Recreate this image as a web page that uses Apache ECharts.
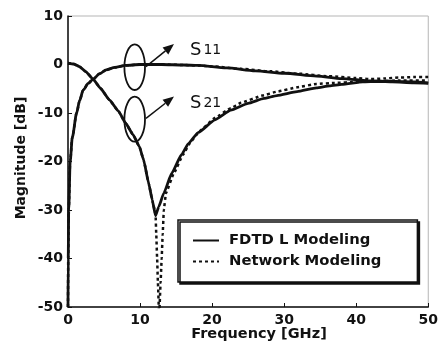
<!DOCTYPE html>
<html>
<head>
<meta charset="utf-8">
<script src="https://cdn.jsdelivr.net/npm/echarts@6/dist/echarts.min.js"></script>
<style>html,body{margin:0;padding:0;background:#fff}#c{width:441px;height:350px}</style>
</head>
<body>
<div id="c"></div>
<script>
// ---- data (GHz, dB) ----
const xTicks = [0, 10, 20, 30, 40, 50];
const yTicks = [10, 0, -10, -20, -30, -40, -50];
const s11Fdtd = [[0,-50],[0.03,-40],[0.1,-30],[0.3,-20],[0.6,-15],[1.2,-10],[1.6,-7.5],[2.1,-5.3],[2.8,-3.9],[3.5,-3.0],[4.4,-1.9],[5.3,-1.1],[6.5,-0.6],[8,-0.2],[10,0],[13,0],[16,-0.1],[18,-0.2],[22,-0.7],[26,-1.3],[30,-1.8],[34.5,-2.4],[38,-2.9],[40,-3.1],[42,-3.4],[45,-3.6],[48,-3.8],[50,-3.9]];
const s11Network = [[0,-50],[0.03,-40],[0.1,-30],[0.3,-20],[0.6,-15],[1.2,-10],[1.6,-7.5],[2.1,-5.3],[2.8,-3.9],[3.5,-3.0],[4.4,-1.9],[5.3,-1.1],[6.5,-0.6],[8,-0.2],[10,0],[13,0],[16,-0.1],[18,-0.2],[20,-0.4],[24,-0.9],[28,-1.4],[32,-1.9],[36,-2.4],[40,-2.8],[42,-3.0],[44,-2.9],[46,-2.7],[48,-2.6],[50,-2.6]];
const s21Fdtd = [[0,0.3],[0.8,0.1],[1.6,-0.45],[2.5,-1.5],[3.5,-3.05],[4.5,-4.9],[5.75,-7.3],[7,-9.6],[8,-12.1],[9,-14.4],[9.9,-16.9],[10.5,-19.7],[11.2,-24.5],[11.7,-28],[12.15,-31.2],[12.6,-29.3],[13.3,-26.5],[14.4,-22.4],[15.8,-18.5],[16.7,-16.3],[18.1,-14.0],[20.4,-11.4],[22.6,-9.4],[25,-8],[27.2,-7.0],[29,-6.4],[31.8,-5.6],[34.5,-4.8],[36.3,-4.4],[38,-4.1],[40.9,-3.6],[43,-3.5],[45.5,-3.5],[48,-3.6],[50,-3.8]];
const s21Network = [[0,0.3],[0.8,0.1],[1.6,-0.45],[2.5,-1.5],[3.5,-3.05],[4.5,-4.9],[5.75,-7.3],[7,-9.6],[8,-12.1],[9,-14.4],[9.9,-16.9],[10.5,-19.7],[11.2,-24.5],[11.7,-28],[12.15,-30.8],[12.25,-35],[12.37,-40],[12.48,-45],[12.65,-52],[12.85,-45],[13.0,-40],[13.14,-35],[13.3,-30],[13.6,-26.5],[14.7,-22.4],[16,-18.5],[17,-16],[18.3,-13.7],[20.4,-11],[22.6,-9],[24,-7.9],[27,-6.4],[29,-5.6],[31.8,-4.7],[34.5,-4.0],[37,-3.8],[40,-3.6],[43,-3.4],[46,-3.3],[50,-3.3]];
const seriesNames = ['FDTD L Modeling', 'Network Modeling'];
const curveLabels = ['11', '21'];

const FONT = 'DejaVu Sans';
const chart = echarts.init(document.getElementById('c'), null, {renderer: 'canvas'});

function arrow(x0, y0, x1, y1) {
  const dx = x1 - x0, dy = y1 - y0, L = Math.hypot(dx, dy);
  const ux = dx / L, uy = dy / L, px = -uy, py = ux;
  const len = 11, hw = 4.5;
  const bx = x1 - ux * len, by = y1 - uy * len;
  return [
    {type: 'line', shape: {x1: x0, y1: y0, x2: bx, y2: by}, style: {stroke: '#111', lineWidth: 1.5}},
    {type: 'polygon', shape: {points: [[x1, y1], [bx + px * hw, by + py * hw], [bx - px * hw, by - py * hw]]}, style: {fill: '#111'}}
  ];
}

const lineCommon = {type: 'line', showSymbol: false, symbol: 'none', smooth: 0.25, smoothMonotone: 'x', clip: true, z: 3};

chart.setOption({
  animation: false,
  backgroundColor: '#fff',
  grid: {left: 68, right: 8, top: 16, bottom: 43, show: true, borderColor: '#b5b5b5', borderWidth: 1},
  xAxis: {
    type: 'value', min: xTicks[0], max: xTicks[xTicks.length - 1], interval: 10,
    axisLine: {show: true, onZero: false, lineStyle: {color: '#111', width: 1.5}},
    axisTick: {show: true, inside: true, length: 4, lineStyle: {color: '#111'}},
    splitLine: {show: false},
    axisLabel: {color: '#111', fontFamily: FONT, fontWeight: 'bold', fontSize: 14, margin: 6}
  },
  yAxis: {
    type: 'value', min: yTicks[yTicks.length - 1], max: yTicks[0], interval: 10,
    axisLine: {show: true, onZero: false, lineStyle: {color: '#111', width: 1.5}},
    axisTick: {show: true, inside: true, length: 4, lineStyle: {color: '#111'}},
    splitLine: {show: false},
    axisLabel: {color: '#111', fontFamily: FONT, fontWeight: 'bold', fontSize: 14, margin: 5}
  },
  legend: {
    orient: 'vertical', left: 178, top: 220,
    data: seriesNames,
    itemWidth: 26, itemHeight: 14, itemGap: 6,
    padding: [13, 36, 13, 14],
    borderColor: '#111', borderWidth: 1.5, borderRadius: 0,
    backgroundColor: '#fff',
    shadowColor: '#111', shadowBlur: 0, shadowOffsetX: 2, shadowOffsetY: 2,
    itemStyle: {color: 'rgba(0,0,0,0)', borderColor: 'rgba(0,0,0,0)', borderWidth: 0},
    textStyle: {color: '#111', fontFamily: FONT, fontWeight: 'bold', fontSize: 14.8, padding: [0, 0, 0, 5]}
  },
  series: [
    Object.assign({}, lineCommon, {name: seriesNames[0], data: s11Fdtd, lineStyle: {color: '#111', width: 2.8}, itemStyle: {color: '#111'}}),
    Object.assign({}, lineCommon, {name: seriesNames[0], data: s21Fdtd, smooth: 0.15, lineStyle: {color: '#111', width: 2.8}, itemStyle: {color: '#111'}}),
    Object.assign({}, lineCommon, {name: seriesNames[1], data: s11Network, z: 4, lineStyle: {color: '#111', width: 2.5, type: [3, 3]}, itemStyle: {color: '#111'}}),
    Object.assign({}, lineCommon, {name: seriesNames[1], data: s21Network, smooth: 0.1, z: 4, lineStyle: {color: '#111', width: 2.5, type: [3, 3]}, itemStyle: {color: '#111'}})
  ],
  graphic: [
    {type: 'text', x: 259, y: 334, style: {text: 'Frequency [GHz]', font: 'bold 14.5px "DejaVu Sans"', fill: '#111', align: 'center', verticalAlign: 'middle'}},
    {type: 'text', x: 21, y: 158, rotation: Math.PI / 2, style: {text: 'Magnitude [dB]', font: 'bold 14px "DejaVu Sans"', fill: '#111', align: 'center', verticalAlign: 'middle'}},
    {type: 'ellipse', shape: {cx: 134.7, cy: 67.2, rx: 10.3, ry: 22.8}, style: {fill: null, stroke: '#111', lineWidth: 1.8}, z: 10},
    {type: 'ellipse', shape: {cx: 134.7, cy: 119.2, rx: 10.3, ry: 22.5}, style: {fill: null, stroke: '#111', lineWidth: 1.8}, z: 10},
    ...arrow(146, 66.7, 174, 44),
    ...arrow(146, 118.3, 174, 96.5),
    {type: 'text', x: 190, y: 59, style: {text: '{s|S}{n|' + curveLabels[0] + '}', verticalAlign: 'bottom', rich: {s: {font: '18px "DejaVu Sans"', fill: '#111'}, n: {font: '14px "DejaVu Sans"', fill: '#111', padding: [0, 0, 0, 2]}}}},
    {type: 'text', x: 190, y: 112, style: {text: '{s|S}{n|' + curveLabels[1] + '}', verticalAlign: 'bottom', rich: {s: {font: '18px "DejaVu Sans"', fill: '#111'}, n: {font: '14px "DejaVu Sans"', fill: '#111', padding: [0, 0, 0, 2]}}}}
  ]
});
</script>
</body>
</html>
